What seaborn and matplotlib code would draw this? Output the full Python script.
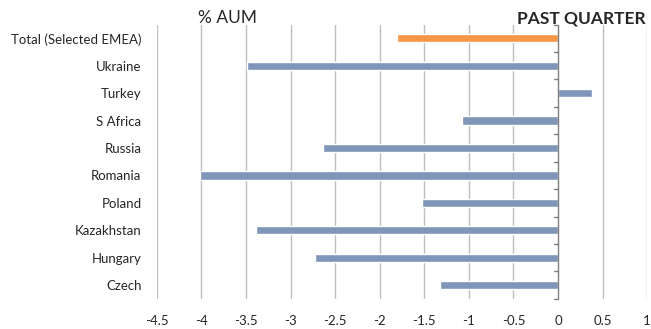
import pandas as pd
import numpy as np
import matplotlib
matplotlib.use('Agg')
import matplotlib.pyplot as plt
import seaborn as sns

# values (% of AUM, past quarter)
countries = ['Total (Selected EMEA)', 'Ukraine', 'Turkey', 'S Africa', 'Russia',
             'Romania', 'Poland', 'Kazakhstan', 'Hungary', 'Czech']
flows = [-1.81, -3.49, 0.38, -1.08, -2.64, -4.02, -1.53, -3.39, -2.73, -1.32]
groups = ['total', 'country', 'country', 'country', 'country',
          'country', 'country', 'country', 'country', 'country']

df = pd.DataFrame({'country': countries, 'flow': flows, 'group': groups})

sns.set_style('white')
plt.rcParams['font.family'] = ['Lato', 'DejaVu Sans']

fig, ax = plt.subplots(figsize=(6.51, 3.29), dpi=100)
fig.subplots_adjust(left=0.241, right=0.994, top=0.925, bottom=0.092)

sns.barplot(data=df, y='country', x='flow', hue='group', orient='h',
            palette={'total': '#F79646', 'country': '#7F96B9'},
            width=0.3, legend=False, ax=ax, saturation=1)

ax.set_xlim(-4.5, 1)
ax.set_ylim(len(countries) - 0.5, -0.5)
ax.set_xticks(np.arange(-4.5, 1.01, 0.5))
ax.set_xticklabels([f'{v:g}' for v in np.arange(-4.5, 1.01, 0.5)], fontsize=9.5,
                   color='#262626')
ax.set_yticks(range(len(countries)))
ax.set_yticklabels(countries, fontsize=9.5, color='#262626')
ax.tick_params(axis='both', length=0, pad=12)
ax.tick_params(axis='y', pad=11)
ax.set_xlabel('')
ax.set_ylabel('')

for v in np.arange(-4.5, 1.01, 0.5):
    if v != 0:
        ax.axvline(v, color='#BFBFBF', lw=1, zorder=0)
ax.axvline(0, color='#7F7F7F', lw=1, zorder=3)
# small tick marks between categories on the zero line
for b in np.arange(-0.5, len(countries), 1):
    ax.plot([-0.04, 0], [b, b], color='#7F7F7F', lw=1, zorder=3, clip_on=False)

for s in ax.spines.values():
    s.set_visible(False)

fig.text(0.35, 0.945, '% AUM', fontsize=12.5, ha='center', va='center')
fig.text(0.992, 0.945, 'PAST QUARTER', fontsize=12.5, fontweight='bold',
         ha='right', va='center')

fig.savefig('out.png', dpi=100)
